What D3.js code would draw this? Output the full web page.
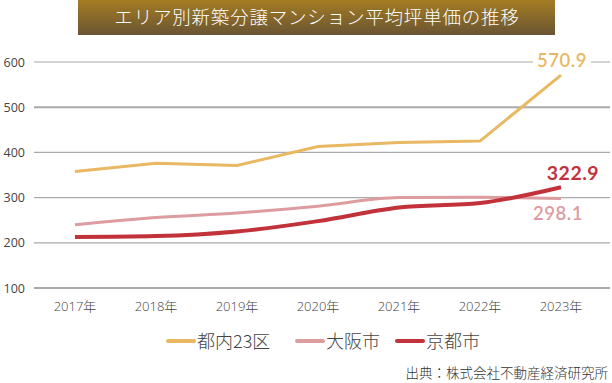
<!DOCTYPE html>
<html>
<head>
<meta charset="utf-8">
<script src="https://cdn.jsdelivr.net/npm/d3@7"></script>
<style>
  body {margin: 0; background: #fff; font-family: "Noto Sans CJK JP", "Noto Sans", sans-serif;}
</style>
</head>
<body>
<div id="chart"></div>
<script>
var years = ["2017年", "2018年", "2019年", "2020年", "2021年", "2022年", "2023年"]
var tokyo = [358, 376, 371, 413, 422, 425, 570.9]
var osaka = [240, 256, 266, 281, 300, 301, 298.1]
var kyoto = [213, 215, 225, 248, 278, 288, 322.9]
var yTicks = [100, 200, 300, 400, 500, 600]

var series = [
  {name: "都内23区", values: tokyo, color: "#e8b862", width: 3, curve: d3.curveLinear},
  {name: "大阪市", values: osaka, color: "#dd9c9f", width: 3, curve: d3.curveMonotoneX},
  {name: "京都市", values: kyoto, color: "#c1323a", width: 4, curve: d3.curveMonotoneX}
]

var width = 612, height = 383
var svg = d3.select("#chart").append("svg")
             .attr("width", width)
             .attr("height", height)

// title bar
var defs = svg.append("defs")
var grad = defs.append("linearGradient").attr("id", "titleGrad")
               .attr("x1", 0).attr("y1", 0).attr("x2", 0).attr("y2", 1)
grad.append("stop").attr("offset", "0%").attr("stop-color", "#a47c22")
grad.append("stop").attr("offset", "100%").attr("stop-color", "#6a5534")
svg.append("rect").attr("x", 78).attr("y", 0).attr("width", 477).attr("height", 35)
   .attr("fill", "url(#titleGrad)")
svg.append("text").attr("x", 317).attr("y", 24)
   .attr("text-anchor", "middle").attr("fill", "#fff")
   .attr("font-size", 18.5).attr("font-weight", 300).attr("letter-spacing", 0.8)
   .text("エリア別新築分譲マンション平均坪単価の推移")

var x = d3.scalePoint().domain(years).range([75, 561])
var y = d3.scaleLinear().domain([100, 600]).range([288, 62])

// grid
svg.append("g").selectAll("line").data(yTicks).join("line")
   .attr("x1", 34).attr("x2", 610)
   .attr("y1", d => y(d)).attr("y2", d => y(d))
   .attr("stroke", "#aaa")
   .attr("stroke-width", d => (d == 100 || d == 500) ? 2 : 1.2)

svg.append("g").selectAll("text").data(yTicks).join("text")
   .attr("x", 25).attr("y", d => y(d) + 4.5)
   .attr("text-anchor", "end").attr("fill", "#444")
   .attr("font-size", 12.5).attr("font-family", "'Open Sans', sans-serif")
   .text(d => d)

// x labels
svg.append("g").selectAll("text").data(years).join("text")
   .attr("x", d => x(d)).attr("y", 311)
   .attr("text-anchor", "middle").attr("fill", "#444")
   .attr("font-size", 13).attr("font-weight", 300)
   .attr("font-family", "'Open Sans', 'Noto Sans CJK JP', sans-serif")
   .text(d => d)

// lines
series.forEach(s => {
  var line = d3.line().x((d, i) => x(years[i])).y(d => y(d)).curve(s.curve)
  svg.append("path").datum(s.values)
     .attr("d", line)
     .attr("fill", "none")
     .attr("stroke", s.color)
     .attr("stroke-width", s.width)
})

// end labels
var last = years.length - 1
svg.append("rect").attr("x", 533).attr("y", 52).attr("width", 58).attr("height", 20).attr("fill", "#fff")
svg.append("text").attr("x", 562).attr("y", 67).attr("text-anchor", "middle")
   .attr("fill", "#e8b862").attr("font-size", 18.5).attr("font-weight", 600)
   .attr("font-family", "Lato, sans-serif").attr("letter-spacing", 0.5)
   .text(tokyo[last].toFixed(1))
svg.append("text").attr("x", 573).attr("y", 180).attr("text-anchor", "middle")
   .attr("fill", "#c1323a").attr("font-size", 19.5).attr("font-weight", "bold")
   .attr("font-family", "Lato, sans-serif").attr("letter-spacing", 0.5)
   .text(kyoto[last].toFixed(1))
svg.append("text").attr("x", 558).attr("y", 220).attr("text-anchor", "middle")
   .attr("fill", "#dd9c9f").attr("font-size", 18.5).attr("font-weight", 600)
   .attr("font-family", "Lato, sans-serif").attr("letter-spacing", 0.5)
   .text(osaka[last].toFixed(1))

// legend
var legendX = [167, 296, 396]
var legend = svg.append("g").selectAll("g").data(series).join("g")
   .attr("transform", (d, i) => "translate(" + legendX[i] + ",341)")
legend.append("line").attr("x1", 1).attr("x2", 27)
   .attr("stroke", d => d.color).attr("stroke-width", 4).attr("stroke-linecap", "round")
legend.append("text").attr("x", 30).attr("y", 6.5)
   .attr("fill", "#444").attr("font-size", 18).attr("font-weight", 300)
   .text(d => d.name)

svg.append("text").attr("x", 608).attr("y", 378).attr("text-anchor", "end")
   .attr("fill", "#333").attr("font-size", 13.5).attr("font-weight", 300)
   .text("出典：株式会社不動産経済研究所")
</script>
</body>
</html>
